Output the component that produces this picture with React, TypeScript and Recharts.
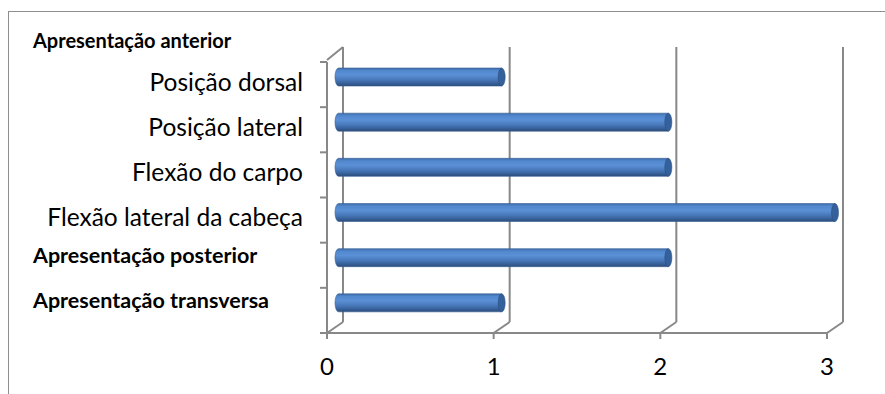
import { BarChart, Bar, XAxis, YAxis, CartesianGrid } from "recharts";

// Presentations counted per type
const categories = [
  "Posição dorsal",
  "Posição lateral",
  "Flexão do carpo",
  "Flexão lateral da cabeça",
  "Apresentação posterior",
  "Apresentação transversa",
];
const counts = [1, 2, 2, 3, 2, 1];
// rows that are a whole group rather than a sub-type
const groupRows = [false, false, false, false, true, true];
const topHeading = "Apresentação anterior";
const xTicks = [0, 1, 2, 3];

const data = categories.map((name, i) => ({
  name,
  value: counts[i],
  group: groupRows[i],
}));

const W = 885;
const H = 394;
const TOP = 62;
const BOTTOM = 61;
const AXIS_W = 327;
const RIGHT = 58;
const BAND = (H - TOP - BOTTOM) / categories.length;

// depth offset of the back wall, and of the bars (half way in)
const DEPTH_X = 16;
const BAR_DX = 8;
const BAR_DY = -8;

const AXIS_COLOR = "#888888";
const FONT = "Lato, 'Open Sans', sans-serif";

const BackWallLine = (props: any) => {
  const { x1, y1, y2, index } = props;
  const bx = x1 + DEPTH_X;
  return (
    <g key={`wall-${index}`}>
      <line x1={bx} y1={y1 - 15} x2={bx} y2={y2 - 11} stroke={AXIS_COLOR} strokeWidth={2} />
      <line x1={x1} y1={y2} x2={bx} y2={y2 - 11} stroke={AXIS_COLOR} strokeWidth={2} />
      {index === 0 && (
        <line x1={x1} y1={y1 - 2} x2={bx} y2={y1 - 15} stroke={AXIS_COLOR} strokeWidth={2} />
      )}
    </g>
  );
};

const CylinderBar = (props: any) => {
  const { x, y, width, height } = props;
  if (!width) return null;
  const x0 = x + BAR_DX;
  const x1 = x0 + width;
  const top = y + BAR_DY;
  const bot = top + height;
  const ry = height / 2;
  const rx = 3.5;
  return (
    <g>
      <path
        d={`M${x0 + rx},${top} L${x1},${top} L${x1},${bot} L${x0 + rx},${bot} A${rx},${ry} 0 0 1 ${x0 + rx},${top} Z`}
        fill="url(#cylinderFill)"
        stroke="#355f96"
        strokeWidth={0.6}
      />
      <ellipse cx={x1} cy={top + ry} rx={rx} ry={ry} fill="#34619c" stroke="#2a4f80" strokeWidth={0.6} />
    </g>
  );
};

const boldText = { fontWeight: 700, fontFamily: FONT, fill: "#000" };

const CategoryTick = (props: any) => {
  const { x, y, index, payload } = props;
  const row = data[index];
  const axisX = x + 7;
  return (
    <g>
      <line x1={x} y1={y - BAND / 2} x2={axisX} y2={y - BAND / 2} stroke={AXIS_COLOR} strokeWidth={2} />
      {index === data.length - 1 && (
        <line x1={x} y1={y + BAND / 2} x2={axisX} y2={y + BAND / 2} stroke={AXIS_COLOR} strokeWidth={2} />
      )}
      {index === 0 && (
        <text x={33} y={y - 37} fontSize={20} {...boldText}>
          {topHeading}
        </text>
      )}
      {row.group ? (
        <text x={33} y={y - 2} fontSize={21.5} {...boldText}>
          {payload.value}
        </text>
      ) : (
        <text x={x - 17} y={y + 6} textAnchor="end" fontSize={24.5} fontFamily={FONT} fill="#000">
          {payload.value}
        </text>
      )}
    </g>
  );
};

const ValueTick = (props: any) => {
  const { x, y, payload } = props;
  return (
    <text x={x} y={y + 34} textAnchor="middle" fontSize={24} fontFamily={FONT} fill="#000">
      {payload.value}
    </text>
  );
};

export default function App() {
  return (
    <div style={{ position: "fixed", left: 0, top: 0, width: W, height: H, overflow: "hidden", background: "#fff" }}>
      <div
        style={{
          position: "absolute",
          left: 8,
          top: 11,
          width: W,
          height: H,
          borderTop: "1.5px solid #8e8e8e",
          borderLeft: "1.5px solid #8e8e8e",
        }}
      />
      <BarChart
        width={W}
        height={H}
        data={data}
        layout="vertical"
        margin={{ top: TOP, right: RIGHT, bottom: 21, left: 0 }}
        style={{ position: "absolute", left: 0, top: 0 }}
      >
        <defs>
          <linearGradient id="cylinderFill" x1="0" y1="0" x2="0" y2="1">
            <stop offset="0%" stopColor="#3d6cab" />
            <stop offset="15%" stopColor="#5288cd" />
            <stop offset="38%" stopColor="#5b90d6" />
            <stop offset="65%" stopColor="#4878ba" />
            <stop offset="88%" stopColor="#355d94" />
            <stop offset="100%" stopColor="#2b4b78" />
          </linearGradient>
        </defs>
        <CartesianGrid horizontal={false} vertical={BackWallLine} />
        <XAxis
          type="number"
          domain={[0, 3]}
          ticks={xTicks}
          height={40}
          tickSize={6}
          tickMargin={2}
          axisLine={{ stroke: AXIS_COLOR, strokeWidth: 2 }}
          tickLine={{ stroke: AXIS_COLOR, strokeWidth: 2 }}
          tick={<ValueTick />}
        />
        <YAxis
          type="category"
          dataKey="name"
          width={AXIS_W}
          tickSize={7}
          tickMargin={0}
          axisLine={{ stroke: AXIS_COLOR, strokeWidth: 2 }}
          tickLine={false}
          tick={<CategoryTick />}
          interval={0}
        />
        <Bar dataKey="value" barSize={18} shape={<CylinderBar />} isAnimationActive={false} />
      </BarChart>
    </div>
  );
}
